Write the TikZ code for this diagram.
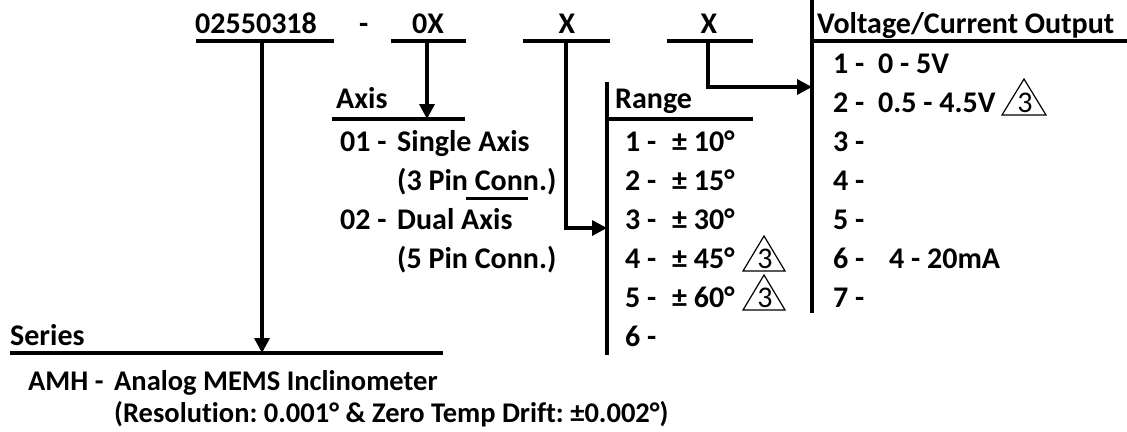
\documentclass[tikz,border=0pt]{standalone}
\usepackage{fontspec}
\setmainfont{Carlito}[Ligatures=NoCommon]
\usetikzlibrary{arrows.meta}
\frenchspacing
\begin{document}
\begin{tikzpicture}[x=1pt,y=-1pt,
  txt/.style={anchor=base west,inner sep=0pt,font=\fontsize{30pt}{36pt}\selectfont\bfseries},
  btxt/.style={anchor=base west,inner sep=0pt,font=\fontsize{28.5pt}{34pt}\selectfont\bfseries},
  ctxt/.style={anchor=base,inner sep=0pt,font=\fontsize{30pt}{36pt}\selectfont\bfseries},
  rule/.style={line width=3.4pt},
  arr/.style={line width=3.4pt,-{Triangle[length=15pt,width=15pt]}},
  note/.style={draw,line width=1.2pt,line join=miter},
  notetxt/.style={anchor=base,inner sep=0pt,font=\fontsize{30pt}{36pt}\selectfont}]
\useasboundingbox (0,0) rectangle (1127,431);
% header
\node[txt] (pn) at (195,33) {02550318};
\node[txt] (dash) at (359,33) {-};
\node[ctxt] (ax) at (428,33) {0X};
\node[ctxt] (rx) at (567,33) {X};
\node[ctxt] (ox) at (709,33) {X};
\node[txt] (vh) at (817,33) {Voltage/Current Output};
% header rules
\coordinate (u1a) at (196,41); \coordinate (u1b) at (334,41);
\coordinate (u2a) at (391,41); \coordinate (u2b) at (466,41);
\coordinate (u3a) at (523,41); \coordinate (u3b) at (610,41);
\coordinate (u4a) at (667,41); \coordinate (u4b) at (753,41);
\draw[rule] (u1a) -- (u1b);
\draw[rule] (u2a) -- (u2b);
\draw[rule] (u3a) -- (u3b);
\draw[rule] (u4a) -- (u4b);
% voltage column
\coordinate (vt) at (812,0); \coordinate (vb) at (812,313);
\coordinate (vl) at (812,41); \coordinate (vr) at (1127,41);
\draw[rule] (vt) -- (vb);
\draw[rule] (vl) -- (vr);
% range column
\coordinate (rt) at (607,82); \coordinate (rb) at (607,355);
\coordinate (rl) at (607,119); \coordinate (rr) at (753,119);
\draw[rule] (rt) -- (rb);
\draw[rule] (rl) -- (rr);
% axis rule
\coordinate (al) at (332,119); \coordinate (ar) at (465,119);
\draw[rule] (al) -- (ar);
% series rule
\coordinate (sl) at (10,353); \coordinate (sr) at (443,353);
\draw[rule] (sl) -- (sr);
% arrows
\coordinate (p1) at (262,41); \coordinate (p1e) at (262,353);
\draw[arr] (p1) -- (p1e);
\coordinate (p2) at (427,41); \coordinate (p2e) at (427,119);
\draw[arr] (p2) -- (p2e);
\coordinate (p3) at (566,41); \coordinate (p3e) at (607,228);
\draw[arr] (p3) |- (p3e);
\coordinate (p4) at (708,41); \coordinate (p4e) at (812,87);
\draw[arr] (p4) |- (p4e);
% axis block
\node[txt] (axh) at (336,108) {Axis};
\node[txt] (a1n) at (340,151) {01 -};
\node[txt] (a1t) at (397,151) {Single Axis};
\node[txt] (a1c) at (397,190) {(3 Pin Conn.)};
\node[txt] (a2n) at (340,229) {02 -};
\node[txt] (a2t) at (397,229) {Dual Axis};
\node[txt] (a2c) at (397,268) {(5 Pin Conn.)};
\coordinate (cl) at (466,198); \coordinate (cr) at (528,198);
\draw[line width=3pt] (cl) -- (cr);
% range block
\node[txt] (rh) at (615,108) {Range};
\node[txt] (r1n) at (625,151) {1 -}; \node[txt] (r1t) at (672,151) {± 10°};
\node[txt] (r2n) at (625,190) {2 -}; \node[txt] (r2t) at (672,190) {± 15°};
\node[txt] (r3n) at (625,229) {3 -}; \node[txt] (r3t) at (672,229) {± 30°};
\node[txt] (r4n) at (625,268) {4 -}; \node[txt] (r4t) at (672,268) {± 45°};
\node[txt] (r5n) at (625,307) {5 -}; \node[txt] (r5t) at (672,307) {± 60°};
\node[txt] (r6n) at (625,346) {6 -};
\draw[note] (743,271) -- (764,236) -- (785,271) -- cycle;
\node[notetxt] (t4) at (765,268) {3};
\draw[note] (743,310) -- (764,275) -- (785,310) -- cycle;
\node[notetxt] (t5) at (765,307) {3};
% voltage block
\node[txt] (v1n) at (833,73) {1 -}; \node[txt] (v1t) at (878,73) {0 - 5V};
\node[txt] (v2n) at (833,112) {2 -}; \node[txt] (v2t) at (878,112) {0.5 - 4.5V};
\draw[note] (1002,115) -- (1024,79) -- (1046,115) -- cycle;
\node[notetxt] (t2) at (1025,112) {3};
\node[txt] (v3n) at (833,151) {3 -};
\node[txt] (v4n) at (833,190) {4 -};
\node[txt] (v5n) at (833,229) {5 -};
\node[txt] (v6n) at (833,268) {6 -}; \node[txt] (v6t) at (889,268) {4 - 20mA};
\node[txt] (v7n) at (833,307) {7 -};
% series block
\node[txt] (sh) at (10,345) {Series};
\node[btxt] (s1n) at (28,390) {AMH -};
\node[btxt] (s1t) at (114,390) {Analog MEMS Inclinometer};
\node[btxt] (s2t) at (114,422) {(Resolution: 0.001° \& Zero Temp Drift: ±0.002°)};
\end{tikzpicture}
\end{document}
